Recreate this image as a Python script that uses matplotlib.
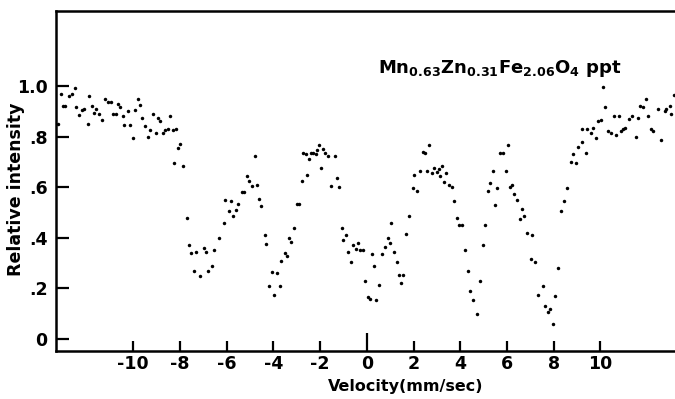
import matplotlib
matplotlib.use("Agg")
import matplotlib.pyplot as plt

# Velocidade (mm/s) e intensidade relativa
velocity = [
    -13.2, -13.1, -13.0, -12.9, -12.75, -12.6, -12.5, -12.45, -12.3, -12.2,
    -12.1, -11.95, -11.9, -11.77, -11.68, -11.57, -11.48, -11.35, -11.2, -11.07,
    -10.94, -10.88, -10.75, -10.65, -10.55, -10.42, -10.37, -10.24, -10.15, -10.02,
    -9.9, -9.8, -9.7, -9.6, -9.47, -9.35, -9.28, -9.17, -9.04, -8.95,
    -8.86, -8.73, -8.62, -8.52, -8.4, -8.3, -8.27, -8.17, -8.06, -7.99,
    -7.88, -7.71, -7.6, -7.53, -7.38, -7.32, -7.14, -6.97, -6.86, -6.79,
    -6.64, -6.55, -6.33, -6.1, -6.05, -5.9, -5.79, -5.72, -5.59, -5.5,
    -5.35, -5.26, -5.13, -5.02, -4.93, -4.8, -4.7, -4.6, -4.52, -4.37,
    -4.3, -4.2, -4.06, -3.97, -3.84, -3.73, -3.65, -3.5, -3.41, -3.32,
    -3.23, -3.1, -3.0, -2.92, -2.77, -2.71, -2.62, -2.55, -2.49, -2.4,
    -2.3, -2.18, -2.12, -2.03, -1.94, -1.88, -1.79, -1.66, -1.53, -1.38,
    -1.27, -1.2, -1.07, -1.01, -0.9, -0.79, -0.68, -0.59, -0.48, -0.39,
    -0.31, -0.18, -0.09, 0.04, 0.13, 0.22, 0.33, 0.41, 0.52, 0.65,
    0.77, 0.89, 0.98, 1.05, 1.16, 1.29, 1.38, 1.48, 1.57, 1.68,
    1.81, 1.97, 2.03, 2.16, 2.27, 2.4, 2.49, 2.58, 2.68, 2.77,
    2.86, 2.99, 3.08, 3.14, 3.23, 3.32, 3.41, 3.5, 3.63, 3.73,
    3.84, 3.93, 4.06, 4.2, 4.34, 4.43, 4.56, 4.7, 4.83, 4.98,
    5.07, 5.17, 5.26, 5.39, 5.48, 5.57, 5.72, 5.81, 5.94, 6.03,
    6.13, 6.22, 6.31, 6.42, 6.55, 6.64, 6.73, 6.86, 7.01, 7.05,
    7.2, 7.34, 7.56, 7.62, 7.75, 7.84, 7.97, 8.06, 8.17, 8.33,
    8.44, 8.57, 8.72, 8.83, 8.94, 9.04, 9.19, 9.21, 9.36, 9.44,
    9.58, 9.68, 9.8, 9.9, 10.04, 10.11, 10.21, 10.33, 10.44, 10.58,
    10.68, 10.78, 10.87, 10.97, 11.04, 11.22, 11.37, 11.5, 11.61, 11.68,
    11.82, 11.94, 12.04, 12.18, 12.25, 12.46, 12.61, 12.75, 12.82, 12.97,
    13.04, 13.15,
]
intensity = [
    0.85, 0.97, 0.92, 0.92, 0.96, 0.97, 0.99, 0.915, 0.885, 0.905,
    0.91, 0.85, 0.96, 0.92, 0.895, 0.91, 0.89, 0.865, 0.95, 0.935,
    0.935, 0.89, 0.89, 0.93, 0.915, 0.88, 0.845, 0.90, 0.845, 0.795,
    0.905, 0.95, 0.925, 0.875, 0.84, 0.80, 0.825, 0.89, 0.815, 0.875,
    0.86, 0.815, 0.825, 0.83, 0.88, 0.825, 0.695, 0.83, 0.755, 0.77,
    0.685, 0.48, 0.37, 0.34, 0.27, 0.345, 0.25, 0.36, 0.345, 0.27,
    0.29, 0.35, 0.40, 0.46, 0.55, 0.505, 0.545, 0.485, 0.51, 0.535,
    0.58, 0.58, 0.645, 0.625, 0.605, 0.725, 0.61, 0.555, 0.525, 0.41,
    0.375, 0.21, 0.265, 0.175, 0.26, 0.21, 0.31, 0.34, 0.33, 0.40,
    0.385, 0.44, 0.535, 0.535, 0.625, 0.735, 0.73, 0.65, 0.71, 0.735,
    0.735, 0.73, 0.745, 0.765, 0.675, 0.75, 0.735, 0.725, 0.605, 0.725,
    0.635, 0.60, 0.44, 0.39, 0.41, 0.345, 0.305, 0.37, 0.355, 0.38,
    0.35, 0.35, 0.23, 0.165, 0.16, 0.335, 0.29, 0.155, 0.215, 0.335,
    0.365, 0.40, 0.38, 0.46, 0.345, 0.305, 0.255, 0.22, 0.255, 0.415,
    0.485, 0.595, 0.65, 0.585, 0.665, 0.74, 0.735, 0.665, 0.765, 0.655,
    0.675, 0.66, 0.67, 0.645, 0.685, 0.62, 0.655, 0.61, 0.60, 0.545,
    0.48, 0.45, 0.45, 0.35, 0.27, 0.19, 0.155, 0.10, 0.23, 0.37,
    0.45, 0.585, 0.615, 0.665, 0.53, 0.595, 0.735, 0.735, 0.665, 0.765,
    0.60, 0.61, 0.575, 0.55, 0.475, 0.515, 0.485, 0.42, 0.315, 0.41,
    0.305, 0.175, 0.21, 0.13, 0.105, 0.12, 0.06, 0.17, 0.28, 0.505,
    0.545, 0.595, 0.70, 0.73, 0.695, 0.76, 0.78, 0.83, 0.735, 0.83,
    0.815, 0.835, 0.795, 0.86, 0.865, 0.995, 0.915, 0.82, 0.815, 0.88,
    0.805, 0.88, 0.82, 0.83, 0.835, 0.87, 0.88, 0.80, 0.875, 0.92,
    0.915, 0.95, 0.88, 0.83, 0.82, 0.91, 0.785, 0.90, 0.91, 0.92,
    0.89, 0.965,
]

x_ticks = [-10, -8, -6, -4, -2, 0, 2, 4, 6, 8, 10]
x_tick_labels = ["-10", "-8", "-6", "-4", "-2", "0", "2", "4", "6", "8", "10"]
y_ticks = [0, 0.2, 0.4, 0.6, 0.8, 1.0]
y_tick_labels = ["0", ".2", ".4", ".6", ".8", "1.0"]

plt.rcParams['font.family'] = ['DejaVu Sans']
plt.rcParams['mathtext.default'] = 'regular'

fig = plt.figure(figsize=(6.75, 3.99), dpi=100)
ax = fig.add_axes([56 / 675, 48.3 / 399, 619 / 675, 339.7 / 399])

ax.plot(velocity, intensity, 'o', ms=2.5, color='black', mec='none')

ax.set_xlim(-13.3, 13.19)
ax.set_ylim(-0.046, 1.296)

ax.spines['right'].set_visible(False)
for s in ['left', 'top', 'bottom']:
    ax.spines[s].set_linewidth(1.8)

ax.set_xticks(x_ticks)
ax.set_xticklabels(x_tick_labels, fontsize=12.5, fontweight='bold')
ax.set_yticks(y_ticks)
ax.set_yticklabels(y_tick_labels, fontsize=12.5, fontweight='bold')
ax.tick_params(axis='x', direction='in', length=7.5, width=1.6, pad=3)
ax.tick_params(axis='y', direction='in', length=9, width=1.6, pad=6)
# o zero do eixo x tem um traço maior
ax.xaxis.get_major_ticks()[x_ticks.index(0)].tick1line.set_markersize(13)

ax.set_ylabel("Relative intensity", fontsize=12.5, fontweight='bold')
ax.yaxis.set_label_coords(-0.05, 0.476)
fig.text(406 / 675, 12 / 399, "Velocity(mm/sec)", fontsize=11.5, fontweight='bold',
         ha='center', va='center')

ax.text(0.5, 1.05, "Mn$_{0.63}$Zn$_{0.31}$Fe$_{2.06}$O$_4$ ppt", fontsize=13,
        fontweight='bold', ha='left', va='baseline')

fig.savefig("out.png", dpi=100)
